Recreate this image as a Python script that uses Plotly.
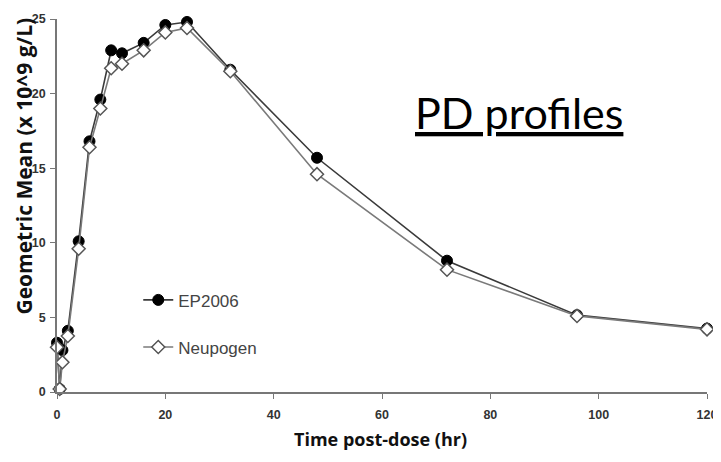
import plotly.graph_objects as go

time_hr = [0, 0.5, 1, 2, 4, 6, 8, 10, 12, 16, 20, 24, 32, 48, 72, 96, 120]
ep2006 = [3.3, 0.2, 2.8, 4.1, 10.1, 16.8, 19.6, 22.9, 22.7, 23.4, 24.6, 24.8, 21.6, 15.7, 8.8, 5.15, 4.25]
neupogen = [3.0, 0.2, 2.0, 3.75, 9.6, 16.4, 19.0, 21.7, 22.0, 22.9, 24.1, 24.4, 21.5, 14.6, 8.2, 5.1, 4.2]

x_ticks = [0, 20, 40, 60, 80, 100, 120]
y_ticks = [0, 5, 10, 15, 20, 25]

fig = go.Figure()
fig.add_trace(go.Scatter(
    x=time_hr, y=ep2006, name="EP2006", mode="lines+markers", legendgroup="a",
    line=dict(color="#3a3a3a", width=1.6),
    marker=dict(symbol="circle", size=11, color="#000000", line=dict(color="#000000", width=1)),
    cliponaxis=False,
))
fig.add_trace(go.Scatter(
    x=time_hr, y=neupogen, name="Neupogen", mode="lines+markers", legendgroup="b",
    line=dict(color="#7a7a7a", width=1.6),
    marker=dict(symbol="diamond", size=10, color="#ffffff", line=dict(color="#555555", width=1.5)),
    cliponaxis=False,
))

tick_font = dict(family="Liberation Sans, Arial", size=12.5, color="#333333")
fig.update_layout(
    width=713, height=446,
    margin=dict(l=49, r=14, t=4, b=62),
    paper_bgcolor="white", plot_bgcolor="white",
    showlegend=True,
    legend=dict(
        x=0.125, y=0.294, xanchor="left", yanchor="top",
        font=dict(family="Liberation Sans, Arial", size=17, color="#444444"),
        tracegroupgap=22, itemwidth=30, bgcolor="rgba(0,0,0,0)",
    ),
    xaxis=dict(
        range=[0, 120], tickvals=x_ticks, ticktext=[f"<b>{v}</b>" for v in x_ticks],
        showgrid=False, zeroline=False, showline=True, linecolor="#777777", linewidth=1.5,
        ticks="outside", ticklen=5, tickcolor="#777777", tickfont=tick_font,
        ticklabelstandoff=5, ticklabeloverflow="allow",
    ),
    yaxis=dict(
        range=[0, 25], tickvals=y_ticks, ticktext=[f"<b>{v}</b>" for v in y_ticks],
        showgrid=False, zeroline=False, showline=True, linecolor="#777777", linewidth=1.5,
        ticks="outside", ticklen=5, tickcolor="#777777", tickfont=tick_font,
        ticklabelstandoff=2, ticklabeloverflow="allow",
    ),
    annotations=[
        dict(text="<b>Time post-dose (hr)</b>", xref="paper", yref="paper",
             x=0.497, y=-0.126, xanchor="center", yanchor="middle", showarrow=False,
             font=dict(family="Open Sans", size=18, color="#111111")),
        dict(text="<b>Geometric Mean (x 10^9 g/L)</b>", xref="paper", yref="paper",
             x=-0.0754, y=0.607, xanchor="left", yanchor="middle", showarrow=False,
             textangle=-90,
             font=dict(family="Open Sans", size=21, color="#111111")),
        dict(text="<u>PD profiles</u>", xref="paper", yref="paper",
             x=0.711, y=0.75, xanchor="center", yanchor="middle", showarrow=False,
             font=dict(family="Lato", size=43, color="#000000")),
    ],
)

fig.write_html(
    "out.html",
    config={"displayModeBar": False},
    post_script="document.documentElement.style.overflow='hidden';"
                "document.querySelectorAll('.main-svg').forEach(function(s){s.style.overflow='visible';});",
)
